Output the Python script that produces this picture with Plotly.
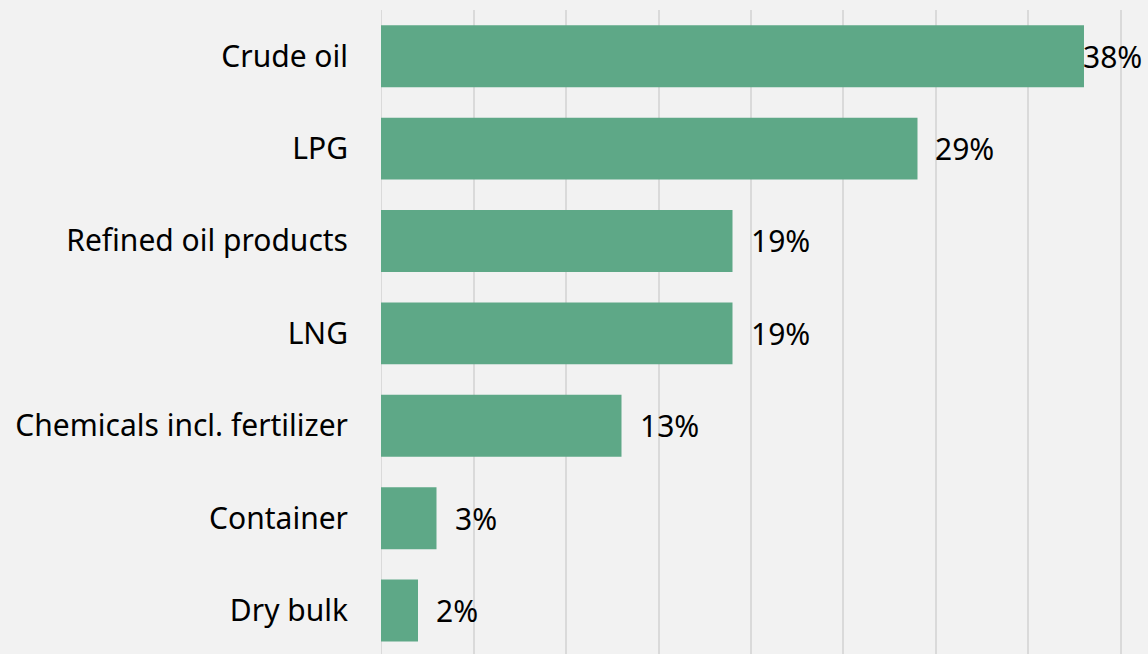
import plotly.graph_objects as go

categories = ["Crude oil", "LPG", "Refined oil products", "LNG",
              "Chemicals incl. fertilizer", "Container", "Dry bulk"]
values = [38, 29, 19, 19, 13, 3, 2]
labels = ["38%", "29%", "19%", "19%", "13%", "3%", "2%"]

FONT = "Noto Sans"
FS = 30
BG = "#f2f2f2"
BAR = "#5ea887"

fig = go.Figure(go.Bar(
    x=values, y=categories, orientation="h",
    marker=dict(color=BAR, line=dict(width=0)),
    hoverinfo="skip",
))

XMAX = 41.46
annotations = []
for cat, v, lab in zip(categories, values, labels):
    if v + 3.5 > XMAX:
        annotations.append(dict(x=1, xref="paper", y=cat, yref="y", text=lab,
                                showarrow=False, xanchor="right", xshift=-4,
                                font=dict(family=FONT, size=FS, color="#000")))
    else:
        annotations.append(dict(x=v, xref="x", y=cat, yref="y", text=lab,
                                showarrow=False, xanchor="left", xshift=16,
                                font=dict(family=FONT, size=FS, color="#000")))

fig.update_layout(
    width=1148, height=654,
    margin=dict(l=381, r=0, t=10, b=0),
    paper_bgcolor=BG, plot_bgcolor=BG,
    bargap=0.33,
    showlegend=False,
    font=dict(family=FONT, size=FS, color="#000"),
    xaxis=dict(range=[0, XMAX], dtick=5, showticklabels=False,
               showgrid=True, gridcolor="#dadada", gridwidth=2,
               zeroline=False, showline=False, fixedrange=True),
    yaxis=dict(range=[6.47, -0.5], showgrid=False, zeroline=False,
               showline=False, ticks="", ticklabelstandoff=32, fixedrange=True,
               tickfont=dict(family=FONT, size=FS, color="#000")),
    annotations=annotations,
)
fig.add_shape(type="line", xref="x", yref="paper", x0=0, x1=0, y0=0, y1=1,
              line=dict(color="#dadada", width=2), layer="below")

fig.write_html("out.html", config={"displayModeBar": False},
               post_script="document.body.style.margin='0';document.body.style.background='#f2f2f2';")
